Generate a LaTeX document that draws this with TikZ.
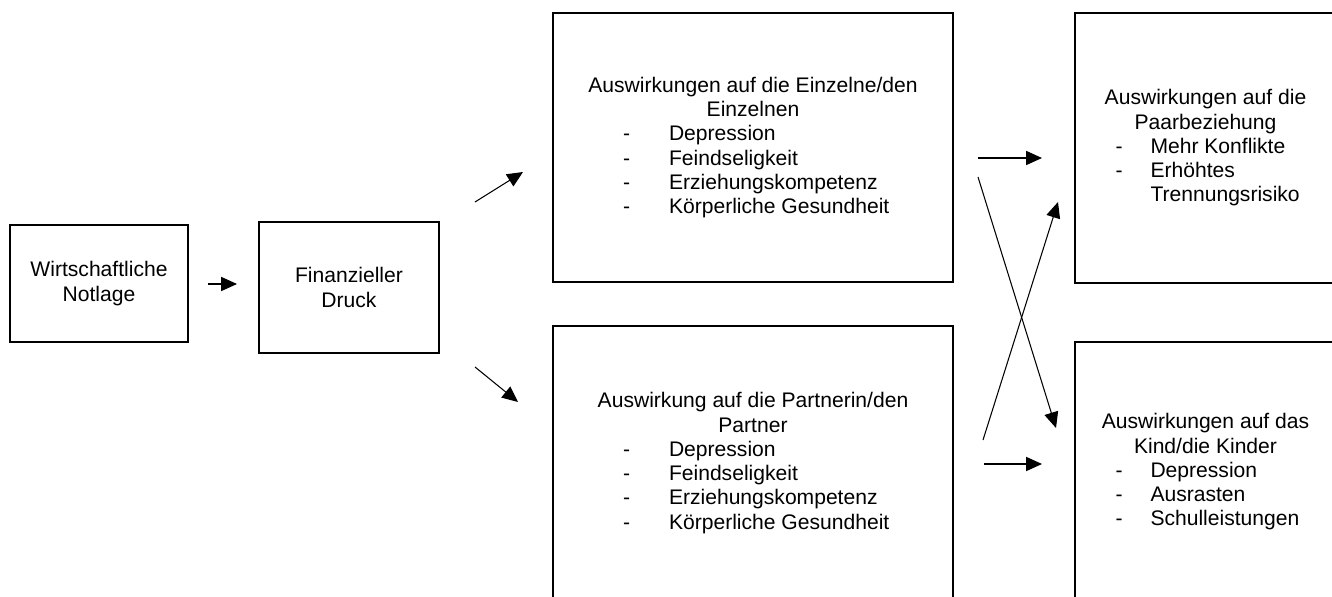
\documentclass[tikz,border=0pt]{standalone}
\usepackage{fontspec}
\setmainfont{Liberation Sans}
\usetikzlibrary{arrows.meta}

\newcommand{\mitem}[1]{\makebox[5.2cm][l]{\makebox[0.92cm][l]{-}#1}}
\newcommand{\ritem}[1]{\makebox[3.6cm][l]{\makebox[0.7cm][l]{-}#1}}
\newcommand{\rmore}[1]{\makebox[3.6cm][l]{\hspace*{0.7cm}#1}}

\begin{document}
\begin{tikzpicture}[x=0.02cm, y=-0.02cm,
		kasten/.style={draw, line width=1.1pt, align=center, inner sep=0pt, font=\fontsize{12pt}{13.8pt}\selectfont},
		pfeil/.style={line width=0.6pt, -{Triangle[length=9pt, width=8pt]}}]
					\useasboundingbox (0,0) rectangle (1332,597);
					\clip (0,0) rectangle (1332,597);
					\node[kasten, minimum width=3.56cm, minimum height=2.34cm] (WN)at(99, 283.5) {Wirtschaftliche\\Notlage};
					\node[kasten, minimum width=3.6cm, minimum height=2.62cm] (FD)at(349, 287.5) {Finanzieller\\Druck};
					\node[kasten, minimum width=8cm, minimum height=5.38cm] (EZ)at(753, 147.5) {Auswirkungen auf die Einzelne/den\\Einzelnen\\\mitem{Depression}\\\mitem{Feindseligkeit}\\\mitem{Erziehungskompetenz}\\\mitem{Körperliche Gesundheit}};
					\node[kasten, minimum width=8cm, minimum height=5.48cm] (PT)at(753, 463) {Auswirkung auf die Partnerin/den\\Partner\\\mitem{Depression}\\\mitem{Feindseligkeit}\\\mitem{Erziehungskompetenz}\\\mitem{Körperliche Gesundheit}};
					\node[kasten, minimum width=5.22cm, minimum height=5.4cm] (PB)at(1205.5, 148) {Auswirkungen auf die\\Paarbeziehung\\\ritem{Mehr Konflikte}\\\ritem{Erhöhtes}\\\rmore{Trennungsrisiko}};
					\node[kasten, minimum width=5.22cm, minimum height=5.2cm] (KD)at(1205.5, 472) {Auswirkungen auf das\\Kind/die Kinder\\\ritem{Depression}\\\ritem{Ausrasten}\\\ritem{Schulleistungen}};
					% freie Pfeilenden
					\coordinate (WN-a)at(208, 284);
					\coordinate (FD-e)at(237, 284);
					\coordinate (FD-a1)at(475, 202);
					\coordinate (EZ-e)at(523, 172);
					\coordinate (FD-a2)at(475, 367);
					\coordinate (PT-e)at(518, 402);
					\coordinate (EZ-a1)at(978, 158);
					\coordinate (PB-e1)at(1042, 158);
					\coordinate (EZ-a2)at(978, 177);
					\coordinate (KD-e1)at(1056, 428);
					\coordinate (PT-a1)at(983, 440);
					\coordinate (PB-e2)at(1058, 202);
					\coordinate (PT-a2)at(984, 464);
					\coordinate (KD-e2)at(1042, 464);
					\draw[pfeil] (WN-a) -- (FD-e);
					\draw[pfeil] (FD-a1) -- (EZ-e);
					\draw[pfeil] (FD-a2) -- (PT-e);
					\draw[pfeil] (EZ-a1) -- (PB-e1);
					\draw[pfeil] (EZ-a2) -- (KD-e1);
					\draw[pfeil] (PT-a1) -- (PB-e2);
					\draw[pfeil] (PT-a2) -- (KD-e2);
				\end{tikzpicture}
\end{document}
